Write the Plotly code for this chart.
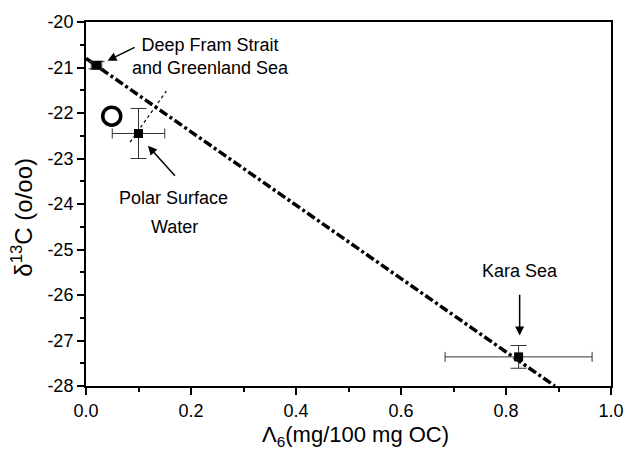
import plotly.graph_objects as go

# data
pt_x = [0.02, 0.10, 0.824]
pt_y = [-20.95, -22.45, -27.36]
pt_xerr = [0.01, 0.05, 0.14]
pt_yerr = [0.08, 0.55, 0.25]
circle_x = [0.049]
circle_y = [-22.07]
fit_x = [0.0, 0.893]
fit_y = [-20.8, -28.0]
dot_x = [0.084, 0.153]
dot_y = [-22.64, -21.52]
x_ticks = [0, 0.2, 0.4, 0.6, 0.8, 1.0]
x_ticklabels = ["0.0", "0.2", "0.4", "0.6", "0.8", "1.0"]
y_ticks = [-28, -27, -26, -25, -24, -23, -22, -21, -20]
y_ticklabels = ["-28", "-27", "-26", "-25", "-24", "-23", "-22", "-21", "-20"]

FONT = "Liberation Sans, Arial, Helvetica, sans-serif"

fig = go.Figure()
fig.add_trace(go.Scatter(x=fit_x, y=fit_y, mode="lines",
                         line=dict(color="black", width=3.5, dash="9px,3px,3px,3px"),
                         showlegend=False))
fig.add_trace(go.Scatter(x=dot_x, y=dot_y, mode="lines",
                         line=dict(color="black", width=1.2, dash="dot"),
                         showlegend=False))
fig.add_trace(go.Scatter(x=pt_x, y=pt_y, mode="markers",
                         marker=dict(symbol="square", size=9, color="black"),
                         error_x=dict(type="data", array=pt_xerr, color="#333", thickness=1, width=5),
                         error_y=dict(type="data", array=pt_yerr, color="#333", thickness=1, width=8),
                         showlegend=False))
fig.add_trace(go.Scatter(x=circle_x, y=circle_y, mode="markers",
                         marker=dict(symbol="circle-open", size=18, color="black", line=dict(width=3.5)),
                         showlegend=False))

ann_font = dict(family=FONT, size=18, color="black")
texts = [
    ("Deep Fram Strait<br>and Greenland Sea", 0.238, -20.76),
    ("Polar Surface", 0.167, -23.87),
    ("Water", 0.169, -24.5),
    ("Kara Sea", 0.826, -25.48),
]
for t, x, y in texts:
    fig.add_annotation(text=t, x=x, y=y, xref="x", yref="y", showarrow=False, font=ann_font)

arrows = [
    (0.041, -20.85, 0.0955, -20.54),
    (0.118, -22.72, 0.172, -23.41),
    (0.826, -26.89, 0.826, -25.96),
]
for hx, hy, tx, ty in arrows:
    fig.add_annotation(text="", x=hx, y=hy, ax=tx, ay=ty, xref="x", yref="y",
                       axref="x", ayref="y", showarrow=True, arrowhead=2,
                       arrowsize=1.2, arrowwidth=1.5, arrowcolor="black")

# axis titles
fig.add_annotation(text="δ<sup>13</sup>C (o/oo)", xref="paper", yref="paper",
                   x=-0.122, y=0.465, xanchor="center", yanchor="middle",
                   textangle=-90, showarrow=False,
                   font=dict(family=FONT, size=24, color="black"))
fig.add_annotation(text="Λ<sub>6</sub>(mg/100 mg OC)", xref="paper", yref="paper",
                   x=0.513, y=-0.138, xanchor="center", yanchor="middle",
                   showarrow=False,
                   font=dict(family=FONT, size=22, color="black"))

fig.update_layout(
    width=636, height=450,
    margin=dict(l=86, r=16, t=18, b=64),
    plot_bgcolor="white", paper_bgcolor="white",
    font=dict(family=FONT, color="black"),
    xaxis=dict(range=[0, 1.0], tickvals=x_ticks, ticktext=x_ticklabels,
               ticks="outside", ticklen=7, tickwidth=2, tickcolor="black",
               minor=dict(dtick=0.1, ticks="outside", ticklen=4, tickwidth=1.5, tickcolor="black"),
               showline=True, linewidth=2, linecolor="black", mirror=True,
               showgrid=False, zeroline=False,
               tickfont=dict(size=18)),
    yaxis=dict(range=[-28, -20], tickvals=y_ticks, ticktext=y_ticklabels,
               ticks="outside", ticklen=7, tickwidth=2, tickcolor="black",
               minor=dict(dtick=0.5, ticks="outside", ticklen=4, tickwidth=1.5, tickcolor="black"),
               showline=True, linewidth=2, linecolor="black", mirror=True,
               showgrid=False, zeroline=False,
               tickfont=dict(size=18)),
)

fig.write_html("out.html")
